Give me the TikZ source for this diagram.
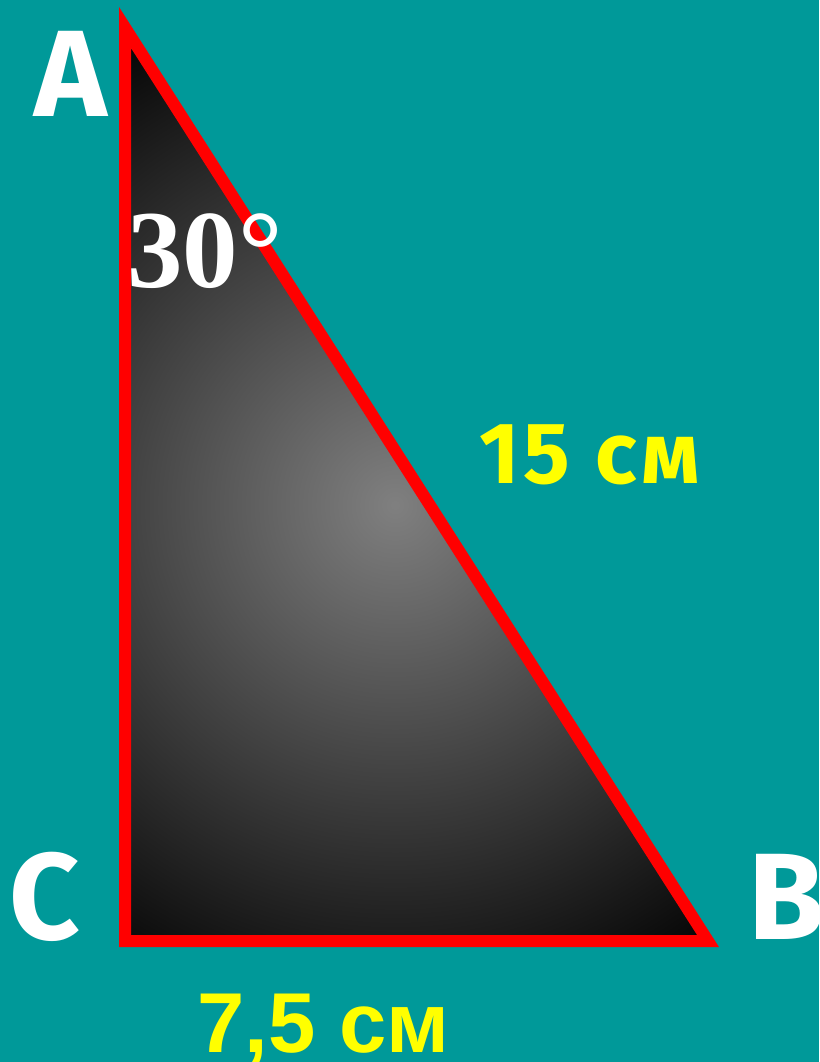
\documentclass[tikz,border=0pt]{standalone}
\usepackage{fontspec}
\setmainfont{Liberation Serif}
\newfontfamily\lblfont{Fira Sans}
\newfontfamily\sidefont[LetterSpace=5]{Fira Sans}
\newfontfamily\arialfont{Liberation Sans}
\definecolor{bgteal}{RGB}{0,153,153}
\definecolor{edgered}{RGB}{255,0,0}
\definecolor{lblyellow}{RGB}{255,255,0}
\begin{document}
\begin{tikzpicture}[x=1pt,y=-1pt,
  vertexlbl/.style={text=white,inner sep=0pt,font=\lblfont\bfseries\fontsize{123}{123}\selectfont},
  anglelbl/.style={text=white,inner sep=0pt,font=\bfseries\fontsize{111}{111}\selectfont},
  sidelblA/.style={text=lblyellow,inner sep=0pt,font=\sidefont\bfseries\fontsize{87}{87}\selectfont},
  sidelblB/.style={text=lblyellow,inner sep=0pt,font=\arialfont\bfseries\fontsize{85}{85}\selectfont},
  edge/.style={draw=edgered,line width=12pt,line join=miter,miter limit=10}]
\fill[bgteal] (0,0) rectangle (819,1062);
\useasboundingbox (0,0) rectangle (819,1062);
\coordinate (A) at (125,27.5);
\coordinate (C) at (125,941);
\coordinate (B) at (708,941);
\begin{scope}
\clip (A) -- (B) -- (C) -- cycle;
\shade[inner color=black!50, outer color=black] (395,505) circle (560);
\end{scope}
\draw[edge] (A) -- (B) -- (C) -- cycle;
\node[vertexlbl,anchor=base] (lA) at (70.5,117) {A};
\node[vertexlbl,anchor=base] (lC) at (45,939) {C};
\node[vertexlbl,anchor=base] (lB) at (786,939) {B};
\node[anglelbl,anchor=base west] (ang) at (127,287) {30°};
\node[sidelblA,anchor=base west] (hyp) at (479,483) {15 см};
\node[sidelblB,anchor=base] (leg) at (323.5,1052) {7,5 см};
\end{tikzpicture}
\end{document}
